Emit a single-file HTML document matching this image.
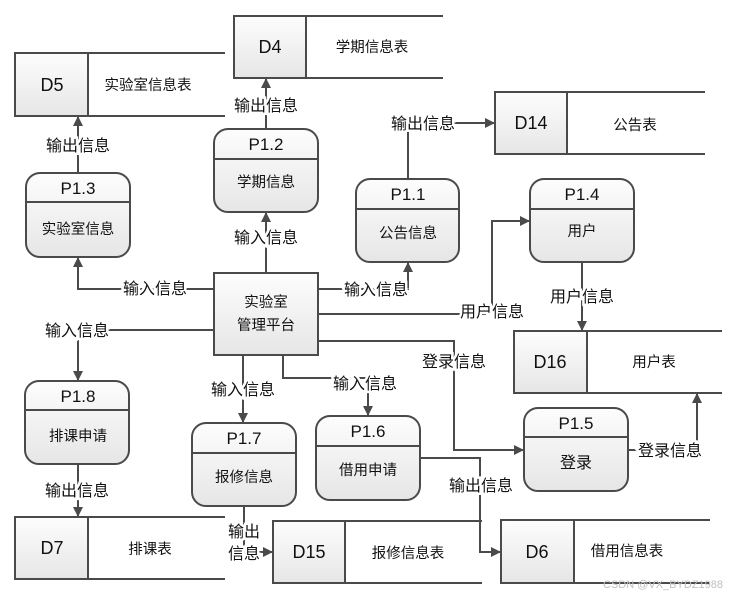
<!DOCTYPE html>
<html><head><meta charset="utf-8"><style>
html,body{margin:0;padding:0;background:#fff;}
svg{display:block;}
text{font-family:"Liberation Sans","Noto Sans CJK SC",sans-serif;fill:#111;}
.lb{font-size:16px;paint-order:stroke;stroke:#fff;stroke-width:5px;text-anchor:middle;}
.ln{stroke:#4a4a4a;stroke-width:2;fill:none;}
</style></head><body>
<svg width="742" height="597" viewBox="0 0 742 597" xmlns="http://www.w3.org/2000/svg">
<defs>
<linearGradient id="g" x1="0" y1="0" x2="0" y2="1"><stop offset="0" stop-color="#fdfdfd"/><stop offset="1" stop-color="#e6e6e6"/></linearGradient>
<marker id="a" markerWidth="10" markerHeight="10" refX="9" refY="5" orient="auto" markerUnits="userSpaceOnUse"><path d="M0,0 L10,5 L0,10 Z" fill="#4a4a4a"/></marker>
</defs>

<g class="ln">
<path d="M214,289 H78 V258" marker-end="url(#a)"/>
<path d="M78,173 V117" marker-end="url(#a)"/>
<path d="M266,273 V213" marker-end="url(#a)"/>
<path d="M266,129 V79" marker-end="url(#a)"/>
<path d="M318,289 H408 V263" marker-end="url(#a)"/>
<path d="M408,179 V123 H494" marker-end="url(#a)"/>
<path d="M318,314 H492 V221 H529" marker-end="url(#a)"/>
<path d="M582,262 V330" marker-end="url(#a)"/>
<path d="M318,341 H454 V450 H523" marker-end="url(#a)"/>
<path d="M628,450 H697 V394" marker-end="url(#a)"/>
<path d="M214,330 H78 V380" marker-end="url(#a)"/>
<path d="M78,464 V516" marker-end="url(#a)"/>
<path d="M243,355 V422" marker-end="url(#a)"/>
<path d="M283,355 V378 H368 V415" marker-end="url(#a)"/>
<path d="M244,506 V552 H272" marker-end="url(#a)"/>
<path d="M420,458 H480 V552 H500" marker-end="url(#a)"/>
</g>

<g stroke="#4a4a4a" stroke-width="2">
<rect x="15" y="53" width="73" height="63" fill="url(#g)"/><path d="M88,53 H225 M88,116 H225"/>
<rect x="234" y="16" width="72" height="62" fill="url(#g)"/><path d="M306,16 H443 M306,78 H443"/>
<rect x="495" y="92" width="72" height="62" fill="url(#g)"/><path d="M567,92 H705 M567,154 H705"/>
<rect x="514" y="331" width="73" height="62" fill="url(#g)"/><path d="M587,331 H722 M587,393 H722"/>
<rect x="15" y="517" width="73" height="62" fill="url(#g)"/><path d="M88,517 H225 M88,579 H225"/>
<rect x="273" y="521" width="72" height="62" fill="url(#g)"/><path d="M345,521 H482 M345,583 H482"/>
<rect x="501" y="520" width="73" height="63" fill="url(#g)"/><path d="M574,520 H710 M574,583 H710"/>
</g>
<g font-size="18" text-anchor="middle">
<text x="52" y="91">D5</text><text x="270" y="53">D4</text><text x="531" y="129">D14</text>
<text x="550" y="368">D16</text><text x="52" y="554">D7</text><text x="309" y="558">D15</text><text x="537" y="558">D6</text>
</g>
<g font-size="14.5" text-anchor="middle">
<text x="148" y="90">实验室信息表</text><text x="372" y="52">学期信息表</text><text x="635" y="130">公告表</text>
<text x="654" y="367">用户表</text><text x="150" y="554">排课表</text><text x="408" y="558">报修信息表</text><text x="627" y="556">借用信息表</text>
</g>

<g stroke="#4a4a4a" stroke-width="2" fill="url(#g)">
<rect x="26" y="173" width="104" height="84" rx="14"/><path d="M26,202 H130"/>
<rect x="214" y="129" width="104" height="83" rx="14"/><path d="M214,159 H318"/>
<rect x="356" y="179" width="103" height="83" rx="14"/><path d="M356,209 H459"/>
<rect x="530" y="179" width="104" height="83" rx="14"/><path d="M530,209 H634"/>
<rect x="25" y="381" width="104" height="83" rx="14"/><path d="M25,410 H129"/>
<rect x="192" y="423" width="104" height="83" rx="14"/><path d="M192,453 H296"/>
<rect x="316" y="416" width="104" height="84" rx="14"/><path d="M316,446 H420"/>
<rect x="524" y="408" width="104" height="83" rx="14"/><path d="M524,437 H628"/>
<rect x="214" y="273" width="104" height="82" fill="url(#g)"/>
</g>
<g font-size="17" text-anchor="middle">
<text x="78" y="194">P1.3</text><text x="266" y="150">P1.2</text><text x="408" y="200">P1.1</text><text x="582" y="200">P1.4</text>
<text x="78" y="402">P1.8</text><text x="244" y="444">P1.7</text><text x="368" y="437">P1.6</text><text x="576" y="429">P1.5</text>
</g>
<g font-size="14.5" text-anchor="middle">
<text x="78" y="234">实验室信息</text><text x="266" y="187">学期信息</text><text x="408" y="238">公告信息</text><text x="582" y="236">用户</text>
<text x="78" y="441">排课申请</text><text x="244" y="482">报修信息</text><text x="368" y="475">借用申请</text><text x="576" y="468" font-size="16">登录</text>
<text x="266" y="307">实验室</text><text x="266" y="330">管理平台</text>
</g>

<text class="lb" x="155" y="294">输入信息</text>
<text class="lb" x="78" y="151">输出信息</text>
<text class="lb" x="266" y="243">输入信息</text>
<text class="lb" x="266" y="111">输出信息</text>
<text class="lb" x="376" y="295">输入信息</text>
<text class="lb" x="423" y="129">输出信息</text>
<text class="lb" x="492" y="317">用户信息</text>
<text class="lb" x="582" y="302">用户信息</text>
<text class="lb" x="454" y="367">登录信息</text>
<text class="lb" x="670" y="456">登录信息</text>
<text class="lb" x="77" y="336">输入信息</text>
<text class="lb" x="77" y="496">输出信息</text>
<text class="lb" x="243" y="395">输入信息</text>
<text class="lb" x="365" y="389">输入信息</text>
<text class="lb" x="244" y="537">输出</text>
<text class="lb" x="244" y="559">信息</text>
<text class="lb" x="481" y="491">输出信息</text>
<text x="723" y="588" font-size="11" text-anchor="end" style="fill:#c0c0c0">CSDN @VX_BYDZ1988</text>
</svg>
</body></html>
